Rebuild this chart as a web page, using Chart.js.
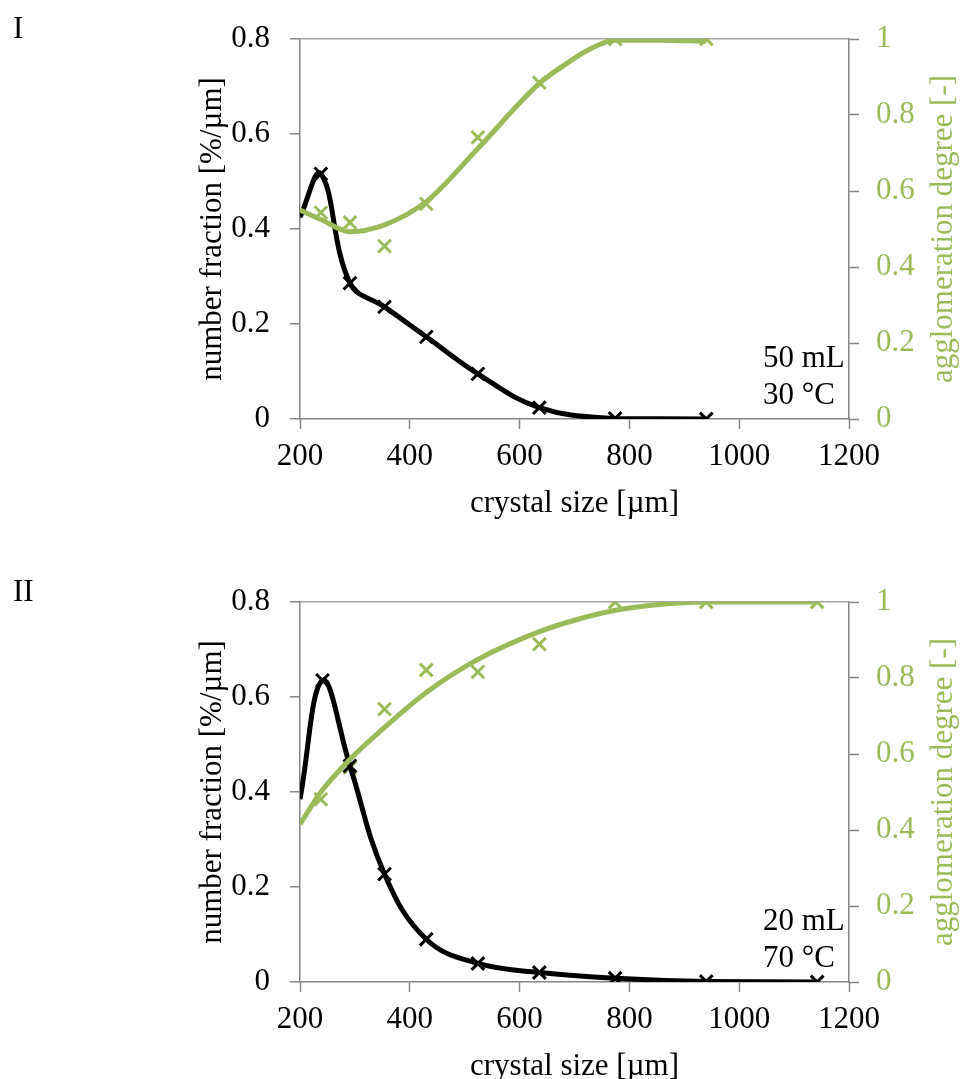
<!DOCTYPE html>
<html>
<head>
<meta charset="utf-8">
<script src="https://cdn.jsdelivr.net/npm/chart.js@4/dist/chart.umd.min.js"></script>
<style>
  html, body { margin: 0; padding: 0; background: #fff; }
  #page { position: relative; width: 963px; height: 1079px; overflow: hidden; }
  #page canvas { position: absolute; left: 0; }
  #chartI { top: 0; }
  #chartII { top: 563px; }
</style>
</head>
<body>
<div id="page">
  <canvas id="chartI" width="963" height="540"></canvas>
  <canvas id="chartII" width="963" height="540"></canvas>
</div>
<script>
// crystal size axis and value axes
const sizeTicks = [200, 400, 600, 800, 1000, 1200];
const fractionTicks = [0, 0.2, 0.4, 0.6, 0.8];
const degreeTicks = [0, 0.2, 0.4, 0.6, 0.8, 1];

// I: 50 mL, 30 °C  (first line point sits on the axis, no marker)
const numFracSizesI = [200, 238, 291, 354, 430, 524, 636, 774, 940];
const numFracI = [0.425, 0.516, 0.286, 0.236, 0.173, 0.095, 0.024, 0.001, 0.0];
const aggSizesI = [238, 291, 354, 430, 524, 636, 774, 940];
const aggDegreeI = [0.543, 0.517, 0.455, 0.566, 0.741, 0.885, 1.0, 1.0];
const aggFitSizesI = [200, 238, 291, 354, 430, 524, 636, 680, 730, 774, 860, 940];
const aggFitI = [0.55, 0.525, 0.493, 0.511, 0.572, 0.712, 0.883, 0.93, 0.975, 0.997, 0.997, 0.994];

// II: 20 mL, 70 °C
const numFracSizesII = [200, 241, 291, 354, 430, 524, 636, 774, 940, 1142];
const numFracII = [0.385, 0.635, 0.455, 0.227, 0.09, 0.039, 0.020, 0.008, 0.001, 0.0];
const aggSizesII = [238, 291, 354, 430, 524, 636, 774, 940, 1142];
const aggDegreeII = [0.481, 0.564, 0.718, 0.821, 0.816, 0.889, 1.0, 1.0, 1.0];
const aggFitSizesII = [200, 238, 291, 354, 430, 524, 636, 700, 770, 850, 940, 1142];
const aggFitII = [0.415, 0.50, 0.586, 0.67, 0.762, 0.849, 0.922, 0.952, 0.977, 0.993, 1.0, 1.0];

const GREEN = '#9BBB59';
const AXIS = '#868686';
const FONT = '"Liberation Serif", "Times New Roman", serif';

function pts(xs, ys) {
  return xs.map((x, i) => ({ x: x, y: ys[i] }));
}

function fixTicks(values) {
  return scale => { scale.ticks = values.map(v => ({ value: v })); };
}

// panel number, test conditions and the right-hand axis title (reads upward)
const panelText = {
  id: 'panelText',
  afterDraw(chart, args, opts) {
    const ctx = chart.ctx;
    const area = chart.chartArea;
    ctx.save();
    ctx.font = '31px ' + FONT;
    ctx.fillStyle = '#000';
    ctx.textAlign = 'left';
    ctx.textBaseline = 'alphabetic';
    ctx.fillText(opts.panel, 13, 38);
    opts.conditions.forEach((line, i) => {
      ctx.fillText(line, area.right - 86, area.bottom - 52 + i * 37);
    });
    ctx.translate(944, (area.top + area.bottom) / 2);
    ctx.rotate(-Math.PI / 2);
    ctx.textAlign = 'center';
    ctx.textBaseline = 'middle';
    ctx.fillStyle = GREEN;
    ctx.fillText('agglomeration degree [-]', 0, 0);
    ctx.restore();
  }
};

function makeChart(id, panel, conditions, fracX, frac, aggX, agg, fitX, fit) {
  const canvas = document.getElementById(id);
  const H = canvas.height;
  return new Chart(canvas, {
    type: 'scatter',
    data: {
      datasets: [
        {
          label: 'agglomeration degree fit',
          data: pts(fitX, fit),
          yAxisID: 'y2',
          showLine: true,
          borderColor: GREEN,
          borderWidth: 5,
          pointRadius: 0,
          cubicInterpolationMode: 'monotone'
        },
        {
          label: 'number fraction',
          data: pts(fracX, frac),
          yAxisID: 'y',
          showLine: true,
          borderColor: '#000',
          borderWidth: 5,
          tension: 0.4,
          pointStyle: 'crossRot',
          pointRadius: c => c.dataIndex === 0 ? 0 : 9,
          pointBorderWidth: 3,
          pointBorderColor: '#000',
          pointBackgroundColor: '#000'
        },
        {
          label: 'agglomeration degree',
          data: pts(aggX, agg),
          yAxisID: 'y2',
          showLine: false,
          pointStyle: 'crossRot',
          pointRadius: 9,
          pointBorderWidth: 3,
          pointBorderColor: GREEN,
          pointBackgroundColor: GREEN
        }
      ]
    },
    options: {
      responsive: false,
      animation: false,
      events: [],
      layout: { padding: { top: 39, left: 0, right: 0, bottom: 0 } },
      plugins: {
        legend: { display: false },
        tooltip: { enabled: false },
        panelText: { panel: panel, conditions: conditions }
      },
      scales: {
        x: {
          type: 'linear',
          min: 200,
          max: 1200,
          afterBuildTicks: fixTicks(sizeTicks),
          afterFit: s => { s.height = H - 419; },
          grid: { drawOnChartArea: false, drawTicks: true, tickLength: 10, tickColor: AXIS, tickWidth: 1.5 },
          border: { color: AXIS, width: 1.5 },
          ticks: {
            color: '#000',
            padding: 9,
            font: { family: FONT, size: 31 },
            callback: v => String(v)
          },
          title: {
            display: true,
            text: 'crystal size [µm]',
            color: '#000',
            font: { family: FONT, size: 31 },
            padding: { top: 0, bottom: 18 }
          }
        },
        y: {
          position: 'left',
          min: 0,
          max: 0.8,
          afterBuildTicks: fixTicks(fractionTicks),
          afterFit: s => { s.width = 300; },
          grid: {
            color: c => c.tick && c.tick.value === 0.8 ? '#a6a6a6' : 'rgba(0,0,0,0)',
            lineWidth: 1.5,
            drawTicks: true,
            tickLength: 10,
            tickColor: AXIS,
            tickWidth: 1.5
          },
          border: { color: AXIS, width: 1.5 },
          ticks: {
            color: '#000',
            padding: 20,
            font: { family: FONT, size: 31 },
            callback: v => String(+v.toFixed(1))
          },
          title: {
            display: true,
            text: 'number fraction [%/µm]',
            color: '#000',
            font: { family: FONT, size: 31 },
            padding: { top: 194, bottom: 0 }
          }
        },
        y2: {
          position: 'right',
          min: 0,
          max: 1,
          afterBuildTicks: fixTicks(degreeTicks),
          afterFit: s => { s.width = 963 - 849; },
          grid: { drawOnChartArea: false, drawTicks: true, tickLength: 10, tickColor: AXIS, tickWidth: 1.5 },
          border: { color: AXIS, width: 1.5 },
          ticks: {
            color: GREEN,
            padding: 17,
            font: { family: FONT, size: 31 },
            callback: v => String(+v.toFixed(1))
          }
        }
      }
    },
    plugins: [panelText]
  });
}

makeChart('chartI', 'I', ['50 mL', '30 °C'],
  numFracSizesI, numFracI, aggSizesI, aggDegreeI, aggFitSizesI, aggFitI);
makeChart('chartII', 'II', ['20 mL', '70 °C'],
  numFracSizesII, numFracII, aggSizesII, aggDegreeII, aggFitSizesII, aggFitII);
</script>
</body>
</html>
